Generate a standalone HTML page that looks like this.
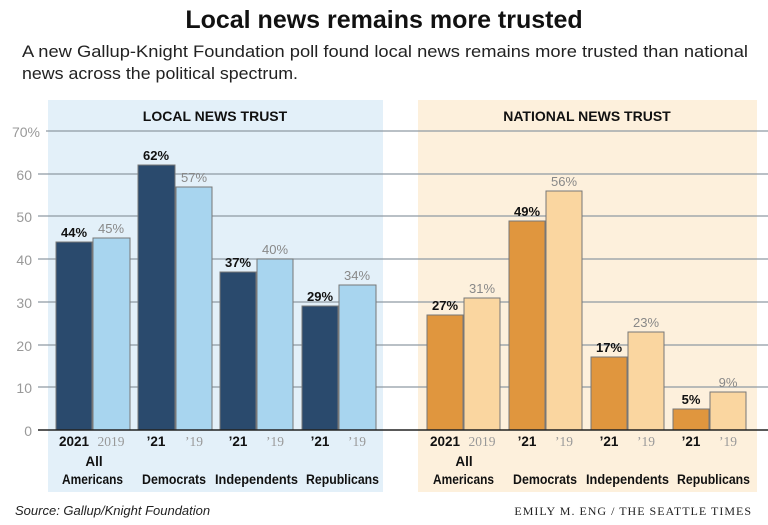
<!DOCTYPE html><html><head><meta charset="utf-8"><style>body{margin:0;background:#fff;width:768px;height:520px;overflow:hidden}</style></head><body>
<svg width="768" height="520" xmlns="http://www.w3.org/2000/svg" font-family="Liberation Sans, sans-serif">
<text x="384" y="28" text-anchor="middle" font-size="25" font-weight="bold" fill="#111">Local news remains more trusted</text>
<text x="22" y="57" font-size="16.5" fill="#222" textLength="726" lengthAdjust="spacingAndGlyphs">A new Gallup-Knight Foundation poll found local news remains more trusted than national</text>
<text x="22" y="79" font-size="16.5" fill="#222" textLength="276" lengthAdjust="spacingAndGlyphs">news across the political spectrum.</text>
<rect x="48" y="100" width="335" height="392" fill="#e3f0f9"/>
<rect x="418" y="100" width="339" height="392" fill="#fdf0dc"/>
<text x="215" y="121" text-anchor="middle" font-size="14" font-weight="bold" fill="#111">LOCAL NEWS TRUST</text>
<text x="587" y="121" text-anchor="middle" font-size="14" font-weight="bold" fill="#111">NATIONAL NEWS TRUST</text>
<g stroke="#8f9aa3" stroke-width="1.3">
<line x1="46" x2="768" y1="131" y2="131"/><line x1="38" x2="768" y1="174" y2="174"/><line x1="38" x2="768" y1="216" y2="216"/><line x1="38" x2="768" y1="259" y2="259"/><line x1="38" x2="768" y1="302" y2="302"/><line x1="38" x2="768" y1="345" y2="345"/><line x1="38" x2="768" y1="387" y2="387"/>
</g>
<g font-size="14" fill="#999" text-anchor="end">
<text x="40" y="137">70%</text><text x="32" y="180">60</text><text x="32" y="222">50</text><text x="32" y="265">40</text><text x="32" y="308">30</text><text x="32" y="351">20</text><text x="32" y="393">10</text><text x="32" y="436">0</text>
</g>
<g stroke="#777" stroke-width="1">
<rect x="56" y="242" width="36" height="188" fill="#2a4a6d"/><rect x="93" y="238" width="37" height="192" fill="#a8d5ef"/>
<rect x="138" y="165" width="37" height="265" fill="#2a4a6d"/><rect x="176" y="187" width="36" height="243" fill="#a8d5ef"/>
<rect x="220" y="272" width="36" height="158" fill="#2a4a6d"/><rect x="257" y="259" width="36" height="171" fill="#a8d5ef"/>
<rect x="302" y="306" width="36" height="124" fill="#2a4a6d"/><rect x="339" y="285" width="37" height="145" fill="#a8d5ef"/>
<rect x="427" y="315" width="36" height="115" fill="#e0963e"/><rect x="464" y="298" width="36" height="132" fill="#fad6a0"/>
<rect x="509" y="221" width="36" height="209" fill="#e0963e"/><rect x="546" y="191" width="36" height="239" fill="#fad6a0"/>
<rect x="591" y="357" width="36" height="73" fill="#e0963e"/><rect x="628" y="332" width="36" height="98" fill="#fad6a0"/>
<rect x="673" y="409" width="36" height="21" fill="#e0963e"/><rect x="710" y="392" width="36" height="38" fill="#fad6a0"/>
</g>
<line x1="38" x2="768" y1="430" y2="430" stroke="#222" stroke-width="1.5"/>
<g font-size="13" text-anchor="middle">
<g font-weight="bold" fill="#111"><text x="74" y="237">44%</text><text x="156" y="160">62%</text><text x="238" y="267">37%</text><text x="320" y="301">29%</text>
<text x="445" y="310">27%</text><text x="527" y="216">49%</text><text x="609" y="352">17%</text><text x="691" y="404">5%</text></g>
<g fill="#888"><text x="111" y="233">45%</text><text x="194" y="182">57%</text><text x="275" y="254">40%</text><text x="357" y="280">34%</text>
<text x="482" y="293">31%</text><text x="564" y="186">56%</text><text x="646" y="327">23%</text><text x="728" y="387">9%</text></g>
</g>
<g font-size="13.5" text-anchor="middle">
<g font-weight="bold" fill="#111"><text x="74" y="446">2021</text><text x="156" y="446">’21</text><text x="238" y="446">’21</text><text x="320" y="446">’21</text>
<text x="445" y="446">2021</text><text x="527" y="446">’21</text><text x="609" y="446">’21</text><text x="691" y="446">’21</text></g>
<g fill="#999" font-family="Liberation Serif, serif"><text x="111" y="446">2019</text><text x="194" y="446">’19</text><text x="275" y="446">’19</text><text x="357" y="446">’19</text>
<text x="482" y="446">2019</text><text x="564" y="446">’19</text><text x="646" y="446">’19</text><text x="728" y="446">’19</text></g>
<g font-weight="bold" fill="#111"><text x="94" y="466">All</text>
<text x="62" y="484" text-anchor="start" textLength="61" lengthAdjust="spacingAndGlyphs">Americans</text>
<text x="142" y="484" text-anchor="start" textLength="64" lengthAdjust="spacingAndGlyphs">Democrats</text>
<text x="215" y="484" text-anchor="start" textLength="83" lengthAdjust="spacingAndGlyphs">Independents</text>
<text x="306" y="484" text-anchor="start" textLength="73" lengthAdjust="spacingAndGlyphs">Republicans</text>
<text x="464" y="466">All</text>
<text x="433" y="484" text-anchor="start" textLength="61" lengthAdjust="spacingAndGlyphs">Americans</text>
<text x="513" y="484" text-anchor="start" textLength="64" lengthAdjust="spacingAndGlyphs">Democrats</text>
<text x="586" y="484" text-anchor="start" textLength="83" lengthAdjust="spacingAndGlyphs">Independents</text>
<text x="677" y="484" text-anchor="start" textLength="73" lengthAdjust="spacingAndGlyphs">Republicans</text></g>
</g>
<text x="15" y="515" font-size="13" font-style="italic" fill="#222">Source: Gallup/Knight Foundation</text>
<text x="752" y="515" text-anchor="end" font-size="12" fill="#222" font-family="Liberation Serif, serif" letter-spacing="1">EMILY M. ENG / THE SEATTLE TIMES</text>
</svg></body></html>
